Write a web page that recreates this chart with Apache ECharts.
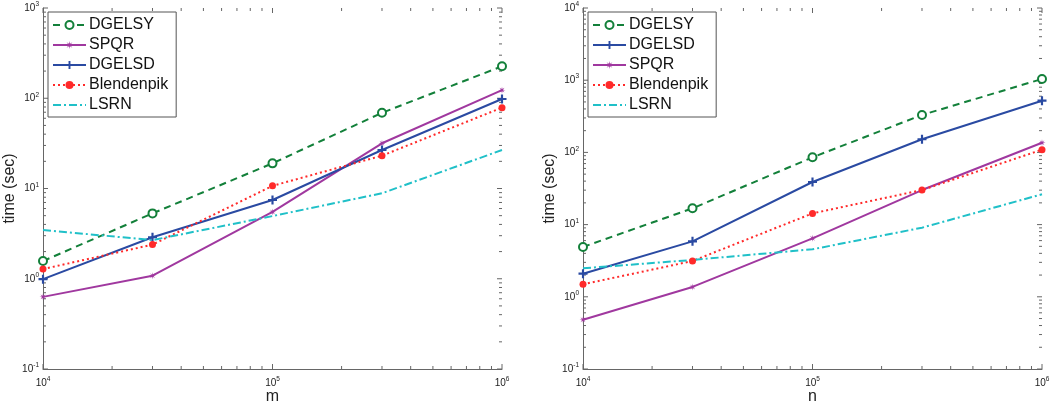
<!DOCTYPE html>
<html>
<head>
<meta charset="utf-8">
<script src="https://cdn.jsdelivr.net/npm/echarts@6/dist/echarts.min.js"></script>
<style>html,body{margin:0;padding:0;background:#fff;}#c{width:1050px;height:402px;}</style>
</head>
<body>
<div id="c"></div>
<script>
// ---- data ----
var xVals = [1e4, 3e4, 1e5, 3e5, 1e6];
// left panel (x = m)
var L_DGELSY = [1.57, 5.3, 19.0, 69, 226];
var L_SPQR = [0.63, 1.08, 5.5, 31.7, 123];
var L_DGELSD = [0.99, 2.88, 7.46, 26.7, 98];
var L_Blendenpik = [1.28, 2.39, 10.7, 23.1, 78.7];
var L_LSRN = [3.47, 2.68, 4.95, 8.85, 26.7];
// right panel (x = n)
var R_DGELSY = [4.9, 16.8, 85.5, 330, 1040];
var R_DGELSD = [2.09, 5.86, 38.9, 152, 520];
var R_SPQR = [0.48, 1.37, 6.45, 30.1, 136];
var R_Blendenpik = [1.49, 3.13, 14.3, 30.1, 109];
var R_LSRN = [2.48, 3.24, 4.55, 9.06, 26.3];
var legendLeft = ['DGELSY', 'SPQR', 'DGELSD', 'Blendenpik', 'LSRN'];
var legendRight = ['DGELSY', 'DGELSD', 'SPQR', 'Blendenpik', 'LSRN'];
var xLabelL = 'm', xLabelR = 'n', yLabel = 'time (sec)';

var FONT = 'Liberation Sans, Arial, Helvetica, sans-serif';

function starPath() {
  var pts = [];
  for (var i = 0; i < 16; i++) {
    var r = (i % 2 === 0) ? 5 : 1.6;
    var a = Math.PI * i / 8;
    pts.push((r * Math.cos(a)).toFixed(2) + ',' + (r * Math.sin(a)).toFixed(2));
  }
  return 'path://M' + pts.join('L') + 'Z';
}

var styles = {
  DGELSY: {color: '#13803a', type: [7, 5], symbol: 'emptyCircle', size: 8},
  SPQR: {color: '#a0389f', type: 'solid', symbol: starPath(), size: 7},
  DGELSD: {color: '#2a4aa2', type: 'solid', symbol: 'path://M-1.2,-5H1.2V-1.2H5V1.2H1.2V5H-1.2V1.2H-5V-1.2H-1.2Z', size: 9},
  Blendenpik: {color: '#ff2a2a', type: [2, 3], symbol: 'circle', size: 7},
  LSRN: {color: '#20c0c8', type: [8, 3, 2, 3], symbol: 'none', size: 0}
};

function pair(arr) { return xVals.map(function (x, i) { return [x, arr[i]]; }); }

function mkSeries(name, arr, gi) {
  var s = styles[name];
  return {
    name: name, type: 'line', xAxisIndex: gi, yAxisIndex: gi,
    data: pair(arr),
    symbol: s.symbol, symbolSize: s.size, showSymbol: s.symbol !== 'none',
    color: s.color,
    lineStyle: {color: s.color, width: 2, type: s.type},
    itemStyle: {color: s.color, borderWidth: s.symbol === 'emptyCircle' ? 2 : 0},
    emphasis: {disabled: true},
    animation: false, z: 3
  };
}

function labelFmt(v) {
  var e = Math.round(Math.log10(v));
  return '{a|10}{b|' + e + '}';
}
var rich = {a: {fontSize: 10, fontFamily: FONT, color: '#222'}, b: {fontSize: 6.5, fontFamily: FONT, color: '#222', padding: [0, 0, 7, 0]}};

function minorTicks(xmin, xmax, ymin, ymax) {
  var out = [];
  function add(lo, hi, kind) {
    for (var e = Math.round(Math.log10(lo)); e <= Math.round(Math.log10(hi)); e++) {
      for (var k = 1; k <= 9; k++) {
        var v = k * Math.pow(10, e);
        if (v < lo * 0.999 || v > hi * 1.001) continue;
        var major = k === 1;
        if (kind === 0) out.push([v, ymin, 0, major ? 5 : 3]);
        else out.push([xmin, v, 1, major ? 5 : 3]);
      }
    }
  }
  add(xmin, xmax, 0);
  add(ymin, ymax, 1);
  return out;
}

function tickSeries(gi, xmin, xmax, ymin, ymax) {
  return {
    type: 'custom', xAxisIndex: gi, yAxisIndex: gi, silent: true, animation: false, z: 1,
    clip: false,
    data: minorTicks(xmin, xmax, ymin, ymax),
    encode: {x: 0, y: 1},
    renderItem: function (params, api) {
      var kind = api.value(2), len = api.value(3);
      var st = {stroke: '#666', lineWidth: 1};
      if (kind === 0) {
        var p1 = api.coord([api.value(0), ymin]);
        var p2 = api.coord([api.value(0), ymax]);
        return {type: 'group', children: [
          {type: 'line', shape: {x1: p1[0], y1: p1[1], x2: p1[0], y2: p1[1] - len}, style: st},
          {type: 'line', shape: {x1: p2[0], y1: p2[1], x2: p2[0], y2: p2[1] + len}, style: st}
        ]};
      } else {
        var q1 = api.coord([xmin, api.value(1)]);
        var q2 = api.coord([xmax, api.value(1)]);
        return {type: 'group', children: [
          {type: 'line', shape: {x1: q1[0], y1: q1[1], x2: q1[0] + len, y2: q1[1]}, style: st},
          {type: 'line', shape: {x1: q2[0], y1: q2[1], x2: q2[0] - len, y2: q2[1]}, style: st}
        ]};
      }
    }
  };
}

function xAxis(gi, name) {
  return {
    type: 'log', logBase: 10, gridIndex: gi, min: 1e4, max: 1e6, interval: 1,
    name: name, nameLocation: 'middle', nameGap: 20, nameMoveOverlap: false,
    nameTextStyle: {fontSize: 16, fontFamily: FONT, color: '#222'},
    axisLine: {show: true, lineStyle: {color: '#666', width: 1}},
    axisTick: {show: false},
    splitLine: {show: false},
    axisLabel: {formatter: labelFmt, rich: rich, margin: 7}
  };
}
function yAxis(gi, max) {
  return {
    type: 'log', logBase: 10, gridIndex: gi, min: 0.1, max: max, interval: 1,
    name: yLabel, nameLocation: 'middle', nameGap: 25, nameRotate: 90, nameMoveOverlap: false,
    nameTextStyle: {fontSize: 16, fontFamily: FONT, color: '#222'},
    axisLine: {show: true, lineStyle: {color: '#666', width: 1}},
    axisTick: {show: false},
    splitLine: {show: false},
    axisLabel: {formatter: labelFmt, rich: rich, margin: 4}
  };
}
function legend(names, left) {
  return {
    data: names.map(function (n) {
      if (n === 'LSRN') return {name: n, itemStyle: {color: 'rgba(0,0,0,0)', borderWidth: 0}};
      return {name: n};
    }),
    orient: 'vertical', left: left, top: 12,
    itemWidth: 33, itemHeight: 10, itemGap: 4,
    padding: [5, 8, 4, 4],
    backgroundColor: '#fff', borderColor: '#555', borderWidth: 1, borderRadius: 0,
    textStyle: {fontSize: 16, lineHeight: 16, fontFamily: FONT, color: '#111', padding: [0, 0, 0, -2]},
    selectedMode: false
  };
}

var chart = echarts.init(document.getElementById('c'), null, {renderer: 'canvas'});
var series = [];
series.push(tickSeries(0, 1e4, 1e6, 0.1, 1e3));
series.push(tickSeries(1, 1e4, 1e6, 0.1, 1e4));
series.push(mkSeries('DGELSY', L_DGELSY, 0));
series.push(mkSeries('SPQR', L_SPQR, 0));
series.push(mkSeries('DGELSD', L_DGELSD, 0));
series.push(mkSeries('Blendenpik', L_Blendenpik, 0));
series.push(mkSeries('LSRN', L_LSRN, 0));
series.push(mkSeries('DGELSY', R_DGELSY, 1));
series.push(mkSeries('DGELSD', R_DGELSD, 1));
series.push(mkSeries('SPQR', R_SPQR, 1));
series.push(mkSeries('Blendenpik', R_Blendenpik, 1));
series.push(mkSeries('LSRN', R_LSRN, 1));

chart.setOption({
  backgroundColor: '#fff',
  animation: false,
  grid: [
    {left: 43, top: 8, width: 459, height: 361, show: false, containLabel: false, outerBoundsMode: 'none'},
    {left: 583, top: 8, width: 459, height: 361, show: false, containLabel: false, outerBoundsMode: 'none'}
  ],
  xAxis: [xAxis(0, xLabelL), xAxis(1, xLabelR)],
  yAxis: [yAxis(0, 1e3), yAxis(1, 1e4)],
  legend: [legend(legendLeft, 48), legend(legendRight, 588)],
  series: series
});
</script>
</body>
</html>
